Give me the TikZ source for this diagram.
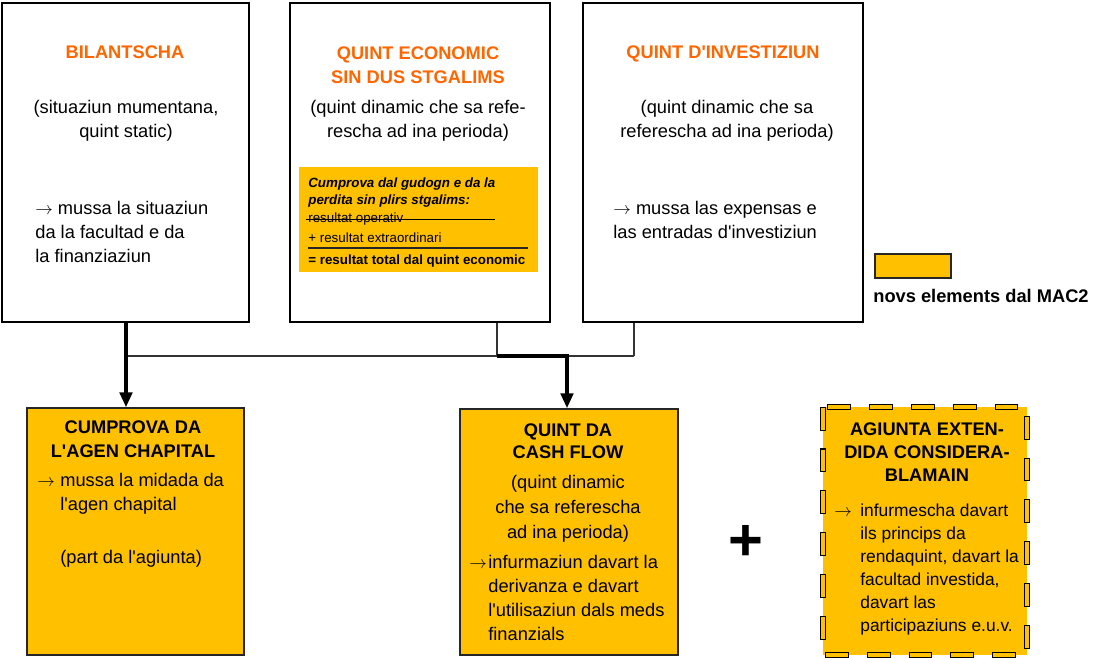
\documentclass[tikz,border=0pt]{standalone}
\usepackage{fontspec}
\setmainfont{Liberation Sans}[Ligatures=TeXOff]
\usepackage{tikz}
\usetikzlibrary{arrows.meta,calc}
\definecolor{titelorange}{RGB}{255,102,0}
\definecolor{novgelb}{RGB}{255,192,0}

\begin{document}
\begin{tikzpicture}[x=0.02cm, y=-0.02cm, >={Triangle[length=8.5pt,width=7pt]}, %坐标按像素, y 向下; 多行节点 base = 最后一行
    quint/.style={draw=black, line width=0.8pt, fill=white, inner sep=0pt},
    novbox/.style={draw=black!85, line width=0.8pt, fill=novgelb, inner sep=0pt},
    titel/.style={font=\fontsize{10.4}{13.6}\selectfont\bfseries, align=center, anchor=base, inner sep=0pt},
    txt/.style={font=\fontsize{10.4}{13.6}\selectfont, inner sep=0pt, anchor=base},
    pitschen/.style={font=\fontsize{7.6}{9.8}\selectfont, inner sep=0pt, anchor=base west},
    linga/.style={line width=0.9pt, black!80},
    grossa/.style={line width=2.3pt, ->}]
    \useasboundingbox (0,0) rectangle (1093,657);

    %上面三个框
    \node[quint, minimum width=4.94cm, minimum height=6.38cm] (bil) at (125.5,162.5) {};
    \node[quint, minimum width=5.2cm, minimum height=6.38cm] (eco) at (420,162.5) {};
    \node[quint, minimum width=5.6cm, minimum height=6.38cm] (inv) at (723,162.5) {};
    \node[fill=novgelb, inner sep=0pt, minimum width=4.78cm, minimum height=2.1cm] (ins) at (418.5,219.5) {};

    %下面三个框
    \node[novbox, minimum width=4.34cm, minimum height=4.94cm] (cap) at (135.5,531.5) {};
    \node[novbox, minimum width=4.36cm, minimum height=4.92cm] (cf) at (569,532) {};
    \node[fill=novgelb, inner sep=0pt, minimum width=4.08cm, minimum height=4.96cm] (ag) at (925,531) {};
    \draw[black, line width=3.4pt, dash pattern=on 13.6pt off 10.2pt] (ag.north west) rectangle (ag.south east);
    \draw[novgelb, line width=2.2pt, dash pattern=on 12.4pt off 11.4pt, dash phase=23.2pt] (ag.north west) rectangle (ag.south east); %虚线边框

    %图例
    \node[novbox, minimum width=1.52cm, minimum height=0.48cm] (leg) at (913,266) {};
    \node[txt, font=\fontsize{10.4}{13.6}\selectfont\bfseries, anchor=base west] (legT) at (873,302) {novs elements dal MAC2};

    %BILANTSCHA
    \node[titel, text=titelorange] (bilT) at (125,58.5) {BILANTSCHA};
    \node[txt, align=center] (bilA) at (126,137) {(situaziun mumentana,\\quint static)};
    \node[txt, align=left, anchor=base west] (bilB) at (35,262.5) {$\rightarrow$ mussa la situaziun\\da la facultad e da\\la finanziaziun};

    %QUINT ECONOMIC
    \node[titel, text=titelorange] (ecoT) at (418,83) {QUINT ECONOMIC\\SIN DUS STGALIMS};
    \node[txt, align=center] (ecoA) at (418,137) {(quint dinamic che sa refe-\\rescha ad ina perioda)};
    \node[pitschen, font=\fontsize{7.6}{9.8}\selectfont\bfseries\itshape, align=left] (insT) at (308,204.5) {Cumprova dal gudogn e da la\\perdita sin plirs stgalims:};
    \node[pitschen] (ins1) at (308,222.5) {resultat operativ};
    \draw[line width=0.5pt] (306,219) -- (495,219); %删除线
    \node[pitschen] (ins2) at (308,242.5) {+ resultat extraordinari};
    \draw[line width=0.8pt, black!85] (308,248) -- (528,248);
    \node[pitschen, font=\fontsize{7.6}{9.8}\selectfont\bfseries] (ins3) at (308,264.5) {= resultat total dal quint economic};

    %QUINT D'INVESTIZIUN
    \node[titel, text=titelorange] (invT) at (723,58.5) {QUINT D'INVESTIZIUN};
    \node[txt, align=center] (invA) at (727,137) {(quint dinamic che sa\\referescha ad ina perioda)};
    \node[txt, align=left, anchor=base west] (invB) at (613,238.5) {$\rightarrow$ mussa las expensas e\\las entradas d'investiziun};

    %CUMPROVA DA L'AGEN CHAPITAL
    \node[titel] (capT) at (133,457) {CUMPROVA DA\\L'AGEN CHAPITAL};
    \node[txt, anchor=base west] (capP) at (37,486.5) {$\rightarrow$};
    \node[txt, align=left, anchor=base west] (capA) at (60,510) {mussa la midada da\\l'agen chapital};
    \node[txt, anchor=base west] (capB) at (60,563.5) {(part da l'agiunta)};

    %QUINT DA CASH FLOW
    \node[titel, font=\fontsize{10.4}{12.6}\selectfont\bfseries] (cfT) at (568,458.5) {QUINT DA\\CASH FLOW};
    \node[txt, font=\fontsize{10.4}{14.2}\selectfont, align=center] (cfA) at (568,538.5) {(quint dinamic\\che sa referescha\\ad ina perioda)};
    \node[txt, anchor=base west] (cfP) at (469,568.5) {$\rightarrow$};
    \node[txt, align=left, anchor=base west] (cfB) at (488,640.5) {infurmaziun davart la\\derivanza e davart\\l'utilisaziun dals meds\\finanzials};

    %AGIUNTA
    \node[titel, font=\fontsize{10.4}{13.2}\selectfont\bfseries] (agT) at (927,481.5) {AGIUNTA EXTEN-\\DIDA CONSIDERA-\\BLAMAIN};
    \node[txt, anchor=base west] (agP) at (834,516.5) {$\rightarrow$};
    \node[txt, font=\fontsize{9.9}{13.1}\selectfont, align=left, anchor=base west] (agB) at (860,631.5) {infurmescha davart\\ils princips da\\rendaquint, davart la\\facultad investida,\\davart las\\participaziuns e.u.v.};

    \node[font=\fontsize{34}{34}\selectfont\bfseries, inner sep=0pt] (plus) at (746,543) {+};

    %连线
    \coordinate (j1) at (126,356);
    \coordinate (j2) at (497,356);
    \coordinate (j3) at (634,356);
    \coordinate (j4) at (567,356);
    \draw[linga] (j1) -- (j3);
    \draw[linga] (eco.south -| j2) -- (j2);
    \draw[linga] (inv.south -| j3) -- (j3);
    \draw[grossa] (bil.south -| j1) -- (cap.north -| j1);
    \draw[grossa] (j2) -- (j4) -- (cf.north -| j4);
\end{tikzpicture}
\end{document}
